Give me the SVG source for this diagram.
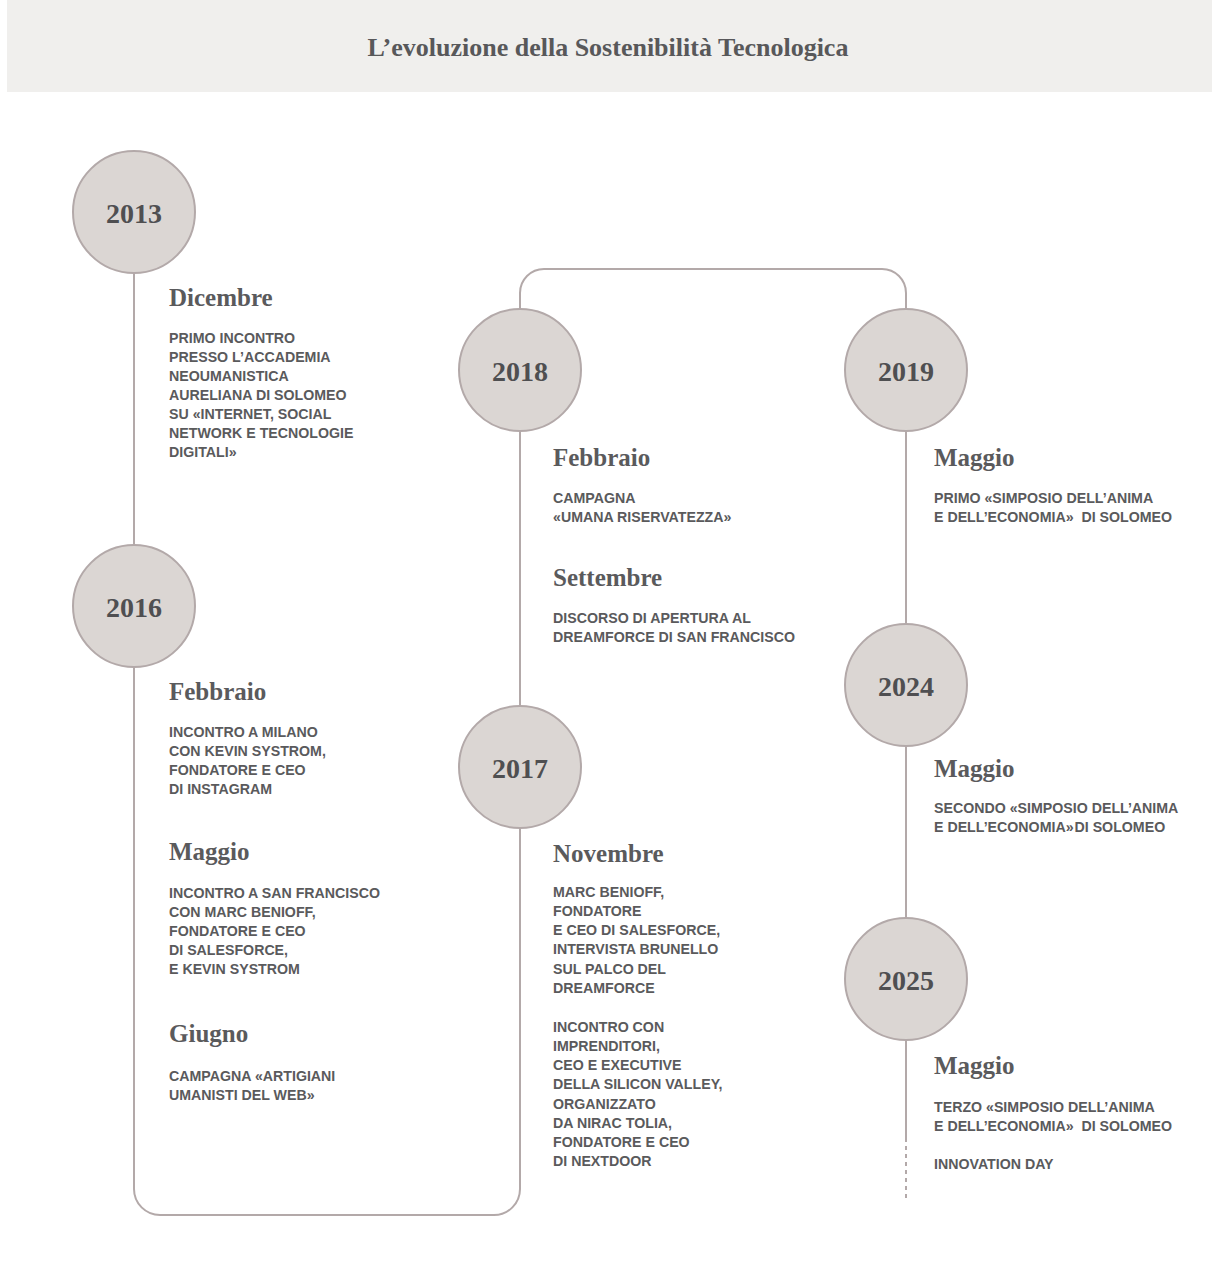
<svg xmlns="http://www.w3.org/2000/svg" width="1212" height="1276" viewBox="0 0 1212 1276">
  <style>
    .title { font-family: "Liberation Serif", "Times New Roman", serif; font-weight: bold; font-size: 26px; fill: #58585a; text-anchor: middle; }
    .year { font-family: "Liberation Serif", "Times New Roman", serif; font-weight: bold; font-size: 28px; fill: #4f4f51; text-anchor: middle; }
    .month { font-family: "Liberation Serif", "Times New Roman", serif; font-weight: bold; font-size: 25px; fill: #5a5a5c; }
    .body { font-family: "Liberation Sans", Arial, sans-serif; font-weight: bold; font-size: 14.2px; fill: #5a5a5c; }
    .node circle { fill: #dbd6d3; stroke: #b3a9a9; stroke-width: 2; }
    .line { fill: none; stroke: #b3a9a9; stroke-width: 2; }
    .dash { stroke-dasharray: 4 4; }
  </style>

  <!-- header band -->
  <rect x="7" y="0" width="1205" height="92" fill="#f0efed"/>
  <text class="title" x="608" y="56">L’evoluzione della Sostenibilità Tecnologica</text>

  <!-- timeline connectors -->
  <g id="connectors">
    <path class="line" d="M134,274 V545"/>
    <path class="line" d="M134,668 V1189 A26,26 0 0 0 160,1215 H494 A26,26 0 0 0 520,1189 V829"/>
    <path class="line" d="M520,705 V432"/>
    <path class="line" d="M520,308 V293 A24,24 0 0 1 544,269 H882 A24,24 0 0 1 906,293 V308"/>
    <path class="line" d="M906,432 V623"/>
    <path class="line" d="M906,747 V917"/>
    <path class="line" d="M906,1041 V1142"/>
    <path class="line dash" d="M906,1146 V1202"/>
  </g>

  <!-- year nodes -->
  <g id="y2013" class="node"><circle cx="134" cy="212" r="61"/><text class="year" x="134" y="223">2013</text></g>
  <g id="y2016" class="node"><circle cx="134" cy="606" r="61"/><text class="year" x="134" y="617">2016</text></g>
  <g id="y2018" class="node"><circle cx="520" cy="370" r="61"/><text class="year" x="520" y="381">2018</text></g>
  <g id="y2019" class="node"><circle cx="906" cy="370" r="61"/><text class="year" x="906" y="381">2019</text></g>
  <g id="y2017" class="node"><circle cx="520" cy="767" r="61"/><text class="year" x="520" y="778">2017</text></g>
  <g id="y2024" class="node"><circle cx="906" cy="685" r="61"/><text class="year" x="906" y="696">2024</text></g>
  <g id="y2025" class="node"><circle cx="906" cy="979" r="61"/><text class="year" x="906" y="990">2025</text></g>

  <!-- 2013 events -->
  <g id="ev2013">
    <text class="month" x="169" y="306">Dicembre</text>
    <text class="body" x="169" y="343">PRIMO INCONTRO</text>
    <text class="body" x="169" y="362">PRESSO L’ACCADEMIA</text>
    <text class="body" x="169" y="381">NEOUMANISTICA</text>
    <text class="body" x="169" y="400">AURELIANA DI SOLOMEO</text>
    <text class="body" x="169" y="419">SU «INTERNET, SOCIAL</text>
    <text class="body" x="169" y="438">NETWORK E TECNOLOGIE</text>
    <text class="body" x="169" y="457">DIGITALI»</text>
  </g>

  <!-- 2016 events -->
  <g id="ev2016">
    <text class="month" x="169" y="700">Febbraio</text>
    <text class="body" x="169" y="737">INCONTRO A MILANO</text>
    <text class="body" x="169" y="756">CON KEVIN SYSTROM,</text>
    <text class="body" x="169" y="775">FONDATORE E CEO</text>
    <text class="body" x="169" y="794">DI INSTAGRAM</text>

    <text class="month" x="169" y="860">Maggio</text>
    <text class="body" x="169" y="898">INCONTRO A SAN FRANCISCO</text>
    <text class="body" x="169" y="917">CON MARC BENIOFF,</text>
    <text class="body" x="169" y="936">FONDATORE E CEO</text>
    <text class="body" x="169" y="955">DI SALESFORCE,</text>
    <text class="body" x="169" y="974">E KEVIN SYSTROM</text>

    <text class="month" x="169" y="1042">Giugno</text>
    <text class="body" x="169" y="1081">CAMPAGNA «ARTIGIANI</text>
    <text class="body" x="169" y="1100">UMANISTI DEL WEB»</text>
  </g>

  <!-- 2018 events -->
  <g id="ev2018">
    <text class="month" x="553" y="466">Febbraio</text>
    <text class="body" x="553" y="503">CAMPAGNA</text>
    <text class="body" x="553" y="522">«UMANA RISERVATEZZA»</text>

    <text class="month" x="553" y="586">Settembre</text>
    <text class="body" x="553" y="623">DISCORSO DI APERTURA AL</text>
    <text class="body" x="553" y="642">DREAMFORCE DI SAN FRANCISCO</text>
  </g>

  <!-- 2017 events -->
  <g id="ev2017">
    <text class="month" x="553" y="862">Novembre</text>
    <text class="body" x="553" y="897">MARC BENIOFF,</text>
    <text class="body" x="553" y="916">FONDATORE</text>
    <text class="body" x="553" y="935">E CEO DI SALESFORCE,</text>
    <text class="body" x="553" y="954">INTERVISTA BRUNELLO</text>
    <text class="body" x="553" y="974">SUL PALCO DEL</text>
    <text class="body" x="553" y="993">DREAMFORCE</text>

    <text class="body" x="553" y="1032">INCONTRO CON</text>
    <text class="body" x="553" y="1051">IMPRENDITORI,</text>
    <text class="body" x="553" y="1070">CEO E EXECUTIVE</text>
    <text class="body" x="553" y="1089">DELLA SILICON VALLEY,</text>
    <text class="body" x="553" y="1109">ORGANIZZATO</text>
    <text class="body" x="553" y="1128">DA NIRAC TOLIA,</text>
    <text class="body" x="553" y="1147">FONDATORE E CEO</text>
    <text class="body" x="553" y="1166">DI NEXTDOOR</text>
  </g>

  <!-- 2019 events -->
  <g id="ev2019">
    <text class="month" x="934" y="466">Maggio</text>
    <text class="body" x="934" y="503">PRIMO «SIMPOSIO DELL’ANIMA</text>
    <text class="body" x="934" y="522" xml:space="preserve">E DELL’ECONOMIA»  DI SOLOMEO</text>
  </g>

  <!-- 2024 events -->
  <g id="ev2024">
    <text class="month" x="934" y="777">Maggio</text>
    <text class="body" x="934" y="813">SECONDO «SIMPOSIO DELL’ANIMA</text>
    <text class="body" x="934" y="832">E DELL’ECONOMIA»<tspan dx="1">DI SOLOMEO</tspan></text>
  </g>

  <!-- 2025 events -->
  <g id="ev2025">
    <text class="month" x="934" y="1074">Maggio</text>
    <text class="body" x="934" y="1112">TERZO «SIMPOSIO DELL’ANIMA</text>
    <text class="body" x="934" y="1131" xml:space="preserve">E DELL’ECONOMIA»  DI SOLOMEO</text>
    <text class="body" x="934" y="1169">INNOVATION DAY</text>
  </g>
</svg>
